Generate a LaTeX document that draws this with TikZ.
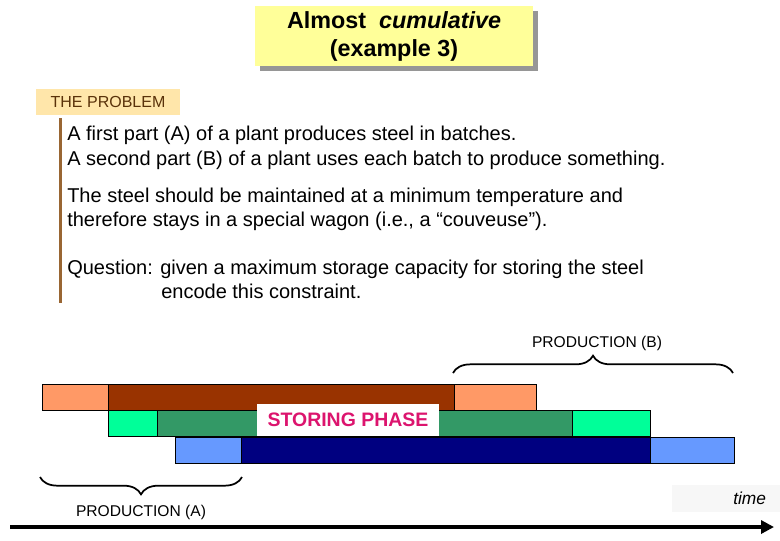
\documentclass[tikz,border=0pt]{standalone}
\usepackage{fontspec}
\setmainfont{Liberation Sans}
\usetikzlibrary{positioning,arrows.meta,decorations.pathreplacing,shadows}
\definecolor{titleyellow}{RGB}{255,255,153}
\definecolor{shadowgray}{RGB}{150,150,150}
\definecolor{tagorange}{RGB}{255,230,170}
\definecolor{tagbrown}{RGB}{90,50,10}
\definecolor{rulebrown}{RGB}{153,102,51}
\definecolor{salmon}{RGB}{255,153,102}
\definecolor{rust}{RGB}{153,51,0}
\definecolor{mint}{RGB}{0,255,153}
\definecolor{seagreen}{RGB}{51,153,102}
\definecolor{skyblue}{RGB}{102,153,255}
\definecolor{deepnavy}{RGB}{0,0,128}
\definecolor{storepink}{RGB}{220,20,110}
\definecolor{timegray}{RGB}{247,247,247}
\tikzset{
  titlebox/.style={fill=titleyellow, minimum width=208.5pt, minimum height=45pt, align=center,
    font=\fontsize{17.5}{21}\selectfont\bfseries,
    drop shadow={shadow xshift=3.75pt, shadow yshift=-3.75pt, fill=shadowgray, opacity=1}},
  tagbox/.style={fill=tagorange, text=tagbrown, minimum width=108pt, minimum height=19.5pt, font=\fontsize{12}{14}\selectfont},
  bodyline/.style={anchor=base west, inner sep=0pt, font=\fontsize{15}{18}\selectfont},
  segbox/.style={draw=black, line width=0.6pt},
  bracelabel/.style={inner sep=0pt, font=\fontsize{11.7}{14}\selectfont},
  curly/.style={decorate, decoration={brace, amplitude=#1}, line width=1.3pt},
  storebox/.style={fill=white, text=storepink, minimum width=136.5pt, minimum height=24pt, font=\fontsize{14.6}{17}\selectfont\bfseries},
  timebox/.style={fill=timegray, text width=60pt, align=right, inner xsep=10.5pt, minimum height=20.25pt, font=\fontsize{13}{15}\selectfont\itshape},
  timearrow/.style={-{Triangle[length=9.75pt, width=9.75pt]}, line width=3pt}
}

\begin{document}
\begin{tikzpicture}[x=0.75pt, y=-0.75pt]
  \useasboundingbox (0,0) rectangle (780,540);
  % heading
  \node[titlebox] (title) at (394,36) {Almost\ \ \textit{cumulative}\\(example 3)};
  \node[tagbox] (problem) at (108,102) {THE PROBLEM};
  \draw[rulebrown, line width=2.6pt] (60.5,118) -- (60.5,303);
  % problem statement
  \node[bodyline] (line1) at (67,140) {A first part (A) of a plant produces steel in batches.};
  \node[bodyline] (line2) at (67,165) {A second part (B) of a plant uses each batch to produce something.};
  \node[bodyline] (line3) at (67,202) {The steel should be maintained at a minimum temperature and};
  \node[bodyline] (line4) at (67,226) {therefore stays in a special wagon (i.e., a “couveuse”).};
  \node[bodyline] (line5) at (67,274) {Question: given a maximum storage capacity for storing the steel};
  \node[bodyline] (line6) at (161,298) {encode this constraint.};
  % batches
  \foreach \xa/\xb/\ya/\col in {42/108/384/salmon, 108/454/384/rust, 454/536/384/salmon,
      108/157/410/mint, 157/572/410/seagreen, 572/650/410/mint,
      175/241/437/skyblue, 241/650/437/deepnavy, 650/734/437/skyblue}
    \filldraw[segbox, fill=\col] (\xa,\ya) rectangle (\xb,\ya+26.5);
  \node[storebox] (storing) at (348,420) {STORING PHASE};
  % productions
  \coordinate (bStart) at (453,373);
  \coordinate (bEnd) at (733,373);
  \draw[curly=13pt] (bStart) -- (bEnd);
  \node[bracelabel] (prodB) at (597,343) {PRODUCTION (B)};
  \coordinate (aStart) at (242,477);
  \coordinate (aEnd) at (40,477);
  \draw[curly=13pt] (aStart) -- (aEnd);
  \node[bracelabel] (prodA) at (141,512) {PRODUCTION (A)};
  % time axis
  \node[timebox] (timelbl) at (726,498.5) {time};
  \coordinate (axisL) at (10,527);
  \coordinate (axisR) at (774,527);
  \draw[timearrow] (axisL) -- (axisR);
\end{tikzpicture}
\end{document}
